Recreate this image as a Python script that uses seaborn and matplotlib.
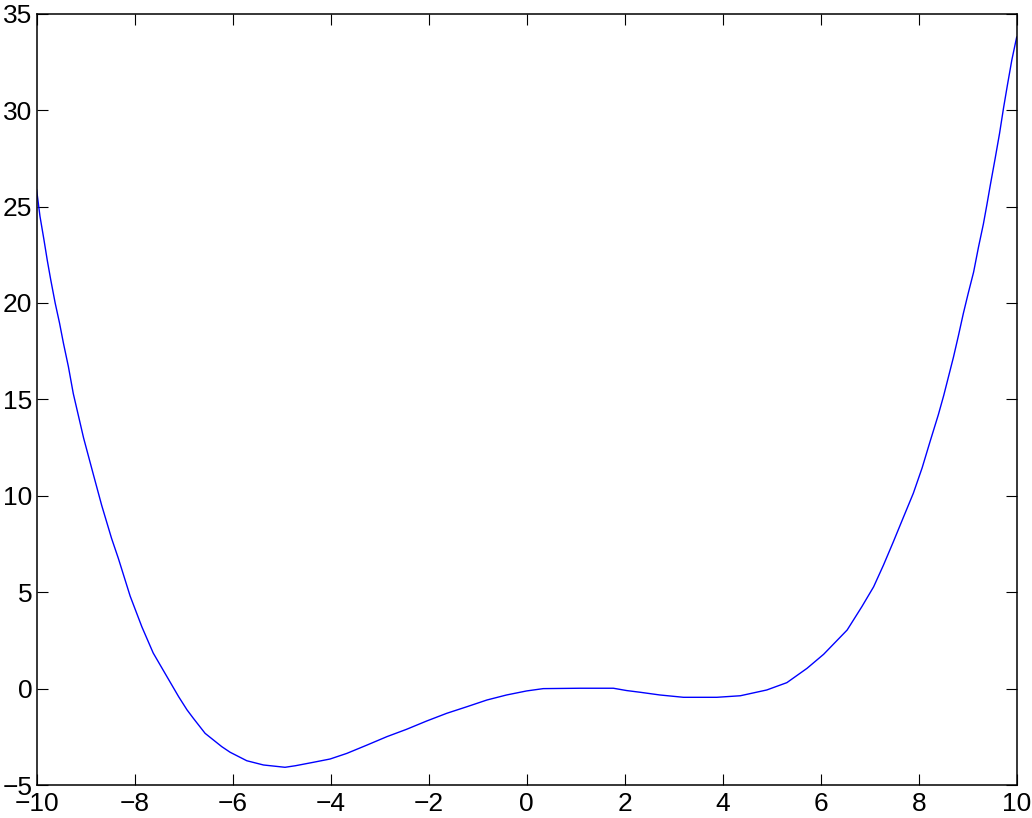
import pandas as pd
import matplotlib
matplotlib.use('Agg')
import matplotlib.pyplot as plt
import seaborn as sns

# values
x_vals = [-10.0, -9.93, -9.85, -9.78, -9.71, -9.62, -9.53, -9.45, -9.35, -9.25,
          -9.04, -8.84, -8.67, -8.47, -8.33, -8.09, -7.85, -7.62, -7.38, -7.10,
          -6.93, -6.80, -6.56, -6.22, -6.05, -5.71, -5.37, -4.93, -4.72, -4.35,
          -4.01, -3.67, -3.26, -2.85, -2.45, -2.04, -1.63, -1.22, -0.81, -0.41,
          0.0, 0.34, 1.09, 1.77, 2.04, 2.32, 2.72, 3.20, 3.88, 4.36,
          4.90, 5.31, 5.72, 6.06, 6.54, 6.84, 7.08, 7.28, 7.48, 7.69,
          7.89, 8.07, 8.23, 8.40, 8.51, 8.60, 8.71, 8.81, 8.91, 9.01,
          9.12, 9.22, 9.32, 9.39, 9.46, 9.56, 9.65, 9.73, 9.81, 9.90,
          10.0]
y_vals = [25.9, 24.5, 23.3, 22.2, 21.2, 20.0, 18.95, 17.9, 16.7, 15.3,
          13.0, 11.1, 9.5, 7.8, 6.75, 4.8, 3.2, 1.85, 0.8, -0.42,
          -1.1, -1.54, -2.32, -3.01, -3.3, -3.74, -3.96, -4.08, -4.0, -3.82,
          -3.65, -3.36, -2.93, -2.49, -2.11, -1.68, -1.28, -0.94, -0.59, -0.33,
          -0.12, 0.0, 0.02, 0.02, -0.1, -0.19, -0.33, -0.45, -0.45, -0.37,
          -0.07, 0.31, 1.05, 1.78, 3.04, 4.25, 5.28, 6.4, 7.6, 8.9,
          10.13, 11.45, 12.8, 14.2, 15.2, 16.1, 17.2, 18.3, 19.45, 20.5,
          21.6, 22.9, 24.1, 25.08, 26.1, 27.5, 28.8, 30.1, 31.3, 32.6,
          33.8]
x_ticks = list(range(-10, 11, 2))
y_ticks = list(range(-5, 36, 5))

df = pd.DataFrame({'x': x_vals, 'y': y_vals})

sns.set_theme(style="ticks")
plt.rcParams['font.family'] = ['Liberation Sans', 'DejaVu Sans']

fig = plt.figure(figsize=(10.32, 8.18), dpi=100)
ax = fig.add_axes([0.0354, 0.0403, 0.9498, 0.9429])

sns.lineplot(x='x', y='y', data=df, color='#0000ff', linewidth=1.0, ax=ax)

ax.set_xlim(-10, 10)
ax.set_ylim(-5, 35)
ax.set_xticks(x_ticks)
ax.set_yticks(y_ticks)
ax.set_xlabel('')
ax.set_ylabel('')

for side in ['top', 'right', 'bottom', 'left']:
    ax.spines[side].set_visible(True)
    ax.spines[side].set_color('black')
    ax.spines[side].set_linewidth(1.1)

ax.tick_params(direction='in', length=8, width=0.8, colors='black',
               top=True, right=True, labelsize=19)
ax.tick_params(axis='x', pad=5)
ax.tick_params(axis='y', pad=3)

fig.savefig('out.png', dpi=100, facecolor='white')
